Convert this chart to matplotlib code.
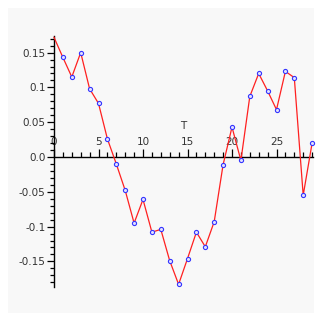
import numpy as np
import matplotlib
matplotlib.use("Agg")
import matplotlib.pyplot as plt
from matplotlib.patches import Rectangle
from matplotlib.ticker import FixedLocator

# data
t_values = list(range(30))
y_values = [
    0.172, 0.143, 0.115, 0.150, 0.098, 0.077, 0.026, -0.010,
    -0.048, -0.095, -0.061, -0.108, -0.104, -0.149, -0.183, -0.146,
    -0.108, -0.129, -0.093, -0.011, 0.043, -0.005, 0.087, 0.120,
    0.095, 0.068, 0.123, 0.114, -0.055, 0.020,
]
x_major = [0, 5, 10, 15, 20, 25]
x_labels = ["0", "5", "10", "15", "20", "25"]
y_major = [-0.15, -0.1, -0.05, 0.0, 0.05, 0.1, 0.15]
y_labels = ["-0.15", "-0.1", "-0.05", "0.0", "0.05", "0.1", "0.15"]

fig = plt.figure(figsize=(3.22, 3.22), dpi=100, facecolor="white")

ax = fig.add_axes([0, 0, 1, 1])
ax.patch.set_alpha(0)

# light grey panel behind the plot
ax.add_patch(
    Rectangle((8 / 322, 9 / 322), 306 / 322, 305 / 322,
              transform=fig.transFigure, facecolor="#f8f8f8",
              edgecolor="none", zorder=0, clip_on=False)
)

# pixel mapping: T=0 at x=54, 8.9 px per unit; y=0 at 157 px, 696 px per unit
ax.set_xlim(-54 / 8.9, (322 - 54) / 8.9)
ax.set_ylim(-(322 - 157) / 696, 157 / 696)

ax.plot(t_values, y_values, color="#ff2020", linewidth=0.9, zorder=3)
ax.plot(t_values[1:], y_values[1:], linestyle="none", marker="o",
        markersize=3.0, markerfacecolor="#e0e0ff",
        markeredgecolor="#3535ff", markeredgewidth=0.8, zorder=4)

for side in ["right", "bottom"]:
    ax.spines[side].set_visible(False)

ax.spines["left"].set_position(("data", 0))
ax.spines["left"].set_bounds(-0.187, 0.174)
ax.spines["top"].set_position(("data", 0))
ax.spines["top"].set_bounds(0, 29.1)
for side in ["left", "top"]:
    ax.spines[side].set_linewidth(1.0)
    ax.spines[side].set_color("black")

ax.xaxis.tick_top()
ax.xaxis.set_major_locator(FixedLocator(x_major))
ax.xaxis.set_minor_locator(FixedLocator(list(range(0, 30))))
ax.set_xticklabels(x_labels)

ax.yaxis.set_major_locator(FixedLocator(y_major))
ax.yaxis.set_minor_locator(FixedLocator(list(np.arange(-0.18, 0.175, 0.01))))
ax.set_yticklabels(y_labels)

ax.tick_params(axis="x", which="major", direction="out", length=6,
               width=0.9, labelsize=7.5, pad=1, colors="black",
               labelcolor="#333333")
ax.tick_params(axis="x", which="minor", direction="out", length=3.5,
               width=0.9)
ax.tick_params(axis="y", which="major", direction="out", length=5,
               width=0.9, labelsize=7.5, pad=1, labelcolor="#333333")
ax.tick_params(axis="y", which="minor", direction="out", length=3,
               width=0.9)

ax.text(14.5, 0.044, "T", fontsize=7.5, color="#333333",
        ha="center", va="center")

fig.savefig("out.png", dpi=100, facecolor="white")
